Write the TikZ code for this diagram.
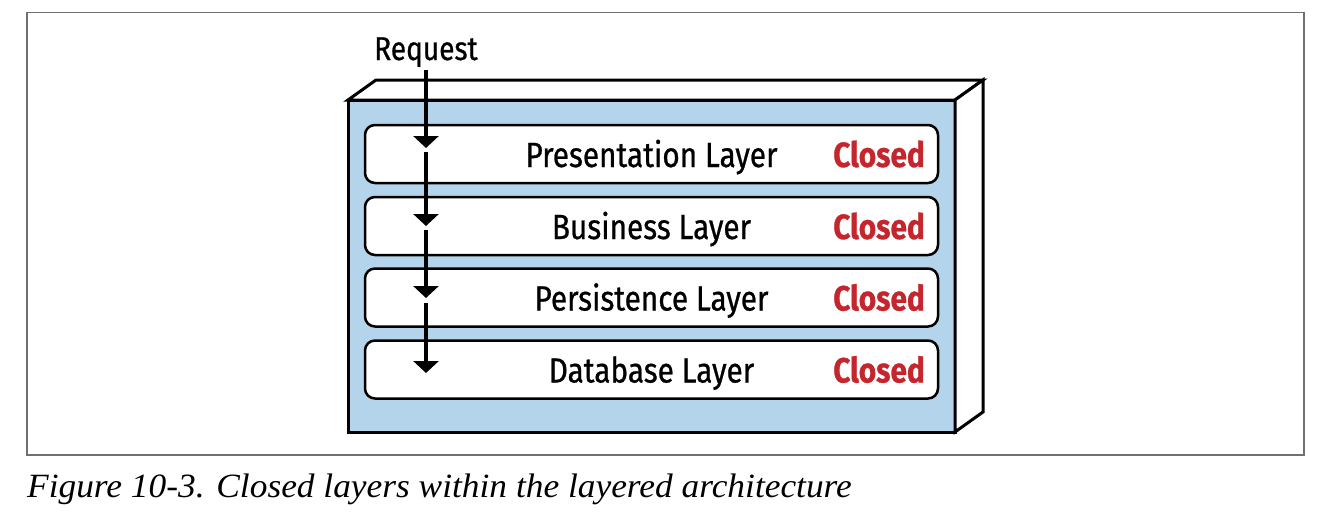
\documentclass[tikz,border=0pt]{standalone}
\usepackage{fontspec}
\usetikzlibrary{arrows.meta}
\newfontfamily\layfont{Fira Sans}[FakeStretch=0.85, FakeBold=0.7]
\newfontfamily\capfont{Liberation Serif}[FakeStretch=1.04]
\definecolor{boxblue}{HTML}{B3D4EA}
\definecolor{closedred}{HTML}{C4262E}
\definecolor{framegray}{HTML}{707070}
\begin{document}
\begin{tikzpicture}[x=1pt,y=-1pt,
  layerbox/.style={draw=black, line width=2.5pt, fill=white, rounded corners=10pt,
    minimum width=573pt, minimum height=58pt, inner sep=0pt},
  laylabel/.style={font=\layfont\fontsize{35}{38}\selectfont, inner sep=0pt, anchor=base},
  closedlabel/.style={font=\layfont\bfseries\fontsize{35}{38}\selectfont, text=closedred,
    anchor=base east, inner sep=0pt},
  flow/.style={line width=4pt, -{Triangle[width=25pt,length=12pt]}},
  face/.style={draw=black, line width=3pt, line join=miter}]
\useasboundingbox (0,0) rectangle (1344,530);
% outer frame
\draw[framegray, line width=1.5pt] (27,12.5) rectangle (1304,455);
% 3D box
\filldraw[face, fill=boxblue] (348,100) rectangle (955,432);
\filldraw[face, fill=white] (348,100) -- (376,80) -- (983,80) -- (955,100) -- cycle;
\filldraw[face, fill=white] (955,100) -- (983,80) -- (983,412) -- (955,432) -- cycle;
% layers
\node[layerbox] (L1) at (651.5,154) {};
\node[layerbox] (L2) at (651.5,226) {};
\node[layerbox] (L3) at (651.5,297.5) {};
\node[layerbox] (L4) at (651.5,369.5) {};
\node[laylabel] (n1) at (651.5,167) {Presentation Layer};
\node[laylabel] (n2) at (651.5,239) {Business Layer};
\node[laylabel] (n3) at (651.5,310.5) {Persistence Layer};
\node[laylabel] (n4) at (651.5,382.5) {Database Layer};
\node[closedlabel] (c1) at (925,167) {Closed};
\node[closedlabel] (c2) at (925,239) {Closed};
\node[closedlabel] (c3) at (925,310.5) {Closed};
\node[closedlabel] (c4) at (925,382.5) {Closed};
% request flow
\node[laylabel, font=\layfont\fontsize{33}{36}\selectfont] (req) at (426,60) {Request};
\coordinate (s1) at (426,70);
\coordinate (t1) at (426,148);
\coordinate (s2) at (426,152);
\coordinate (t2) at (426,226);
\coordinate (s3) at (426,229.5);
\coordinate (t3) at (426,298);
\coordinate (s4) at (426,303);
\coordinate (t4) at (426,373);
\draw[flow] (s1) -- (t1);
\draw[flow] (s2) -- (t2);
\draw[flow] (s3) -- (t3);
\draw[flow] (s4) -- (t4);
% caption
\node[anchor=base west, inner sep=0pt, font=\capfont\itshape\fontsize{34}{37}\selectfont] (cap) at (27,497)
  {Figure 10-3. Closed layers within the layered architecture};
\end{tikzpicture}
\end{document}
